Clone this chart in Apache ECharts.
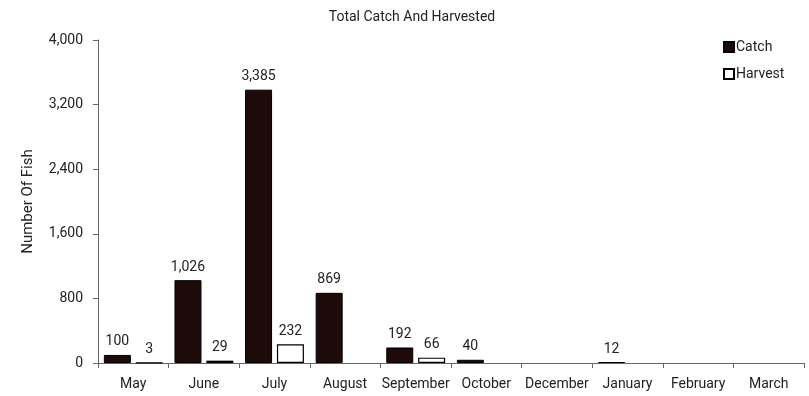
<!DOCTYPE html>
<html><head><meta charset="utf-8">
<script src="https://cdn.jsdelivr.net/npm/echarts@6/dist/echarts.min.js"></script>
<style>html,body{margin:0;padding:0;background:#fff}#c{width:809px;height:396px}</style>
</head><body><div id="c"></div>
<script>
const categories = ['May','June','July','August','September','October','December','January','February','March'];
const catchValues = [100, 1026, 3385, 869, 192, 40, null, 12, null, null];
const harvestValues = [3, 29, 232, null, 66, null, null, null, null, null];
const yTicks = [0, 800, 1600, 2400, 3200, 4000];

const FONT = 'Roboto, "Noto Sans", sans-serif';
const chart = echarts.init(document.getElementById('c'));
const fmt = v => v.toLocaleString('en-US');
const lbl = {show: true, position: 'top', distance: 6, color: '#222', fontSize: 14, fontFamily: FONT,
  formatter: p => p.value == null ? '' : fmt(p.value)};
chart.setOption({
  animation: false,
  textStyle: {fontFamily: FONT},
  title: {text: 'Total Catch And Harvested', left: 407, top: 5, textAlign: 'center',
    textStyle: {fontSize: 14, fontWeight: 'normal', color: '#222', fontFamily: FONT}},
  legend: {orient: 'vertical', left: 718, top: 35, itemWidth: 10, itemHeight: 10, itemGap: 13,
    textStyle: {fontSize: 14, color: '#222', fontFamily: FONT, padding: [0,0,0,-3]},
    data: [{name: 'Catch', icon: 'rect'}, {name: 'Harvest', icon: 'rect'}]},
  grid: {left: 98, right: 5, top: 40, bottom: 33, containLabel: false},
  xAxis: {type: 'category', data: categories,
    axisLine: {lineStyle: {color: '#666'}},
    axisTick: {show: true, alignWithLabel: false, interval: 0, length: 5, lineStyle: {color: '#666'}},
    axisLabel: {color: '#222', fontSize: 14, fontFamily: FONT, margin: 14, interval: 0}},
  yAxis: {type: 'value', min: yTicks[0], max: yTicks[yTicks.length-1], interval: yTicks[1]-yTicks[0],
    name: 'Number Of Fish', nameLocation: 'middle', nameGap: 62, nameRotate: 90,
    nameTextStyle: {color: '#222', fontSize: 15, fontFamily: FONT},
    axisLine: {show: true, lineStyle: {color: '#666'}},
    axisTick: {show: true, length: 5, lineStyle: {color: '#666'}},
    splitLine: {show: false},
    axisLabel: {color: '#222', fontSize: 14, fontFamily: FONT, margin: 15, formatter: v => fmt(v)}},
  series: [
    {name: 'Catch', type: 'bar', data: catchValues, barWidth: 27, barGap: '18%',
     itemStyle: {color: '#1f0a0a', borderColor: '#000', borderWidth: 1}, label: lbl},
    {name: 'Harvest', type: 'bar', data: harvestValues, barWidth: 27,
     itemStyle: {color: '#fff', borderColor: '#000', borderWidth: 1.2}, label: lbl}
  ]
});
</script></body></html>
